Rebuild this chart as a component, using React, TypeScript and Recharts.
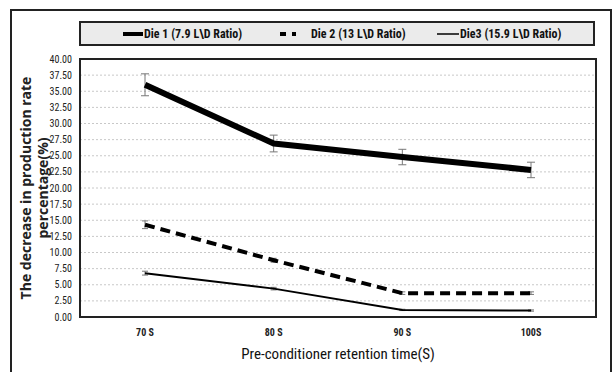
import { LineChart, Line, XAxis, YAxis, CartesianGrid, ErrorBar } from "recharts";

const categories = ["70 S", "80 S", "90 S", "100S"];
const die1 = [36.0, 26.9, 24.8, 22.8];
const die1Err = [1.7, 1.3, 1.2, 1.2];
const die2 = [14.3, 8.8, 3.7, 3.7];
const die2Err = [0.6, 0.3, 0.2, 0.2];
const die3 = [6.8, 4.4, 1.1, 1.0];
const die3Err = [0.3, 0.2, 0.1, 0.1];
const yTicks = [0, 2.5, 5, 7.5, 10, 12.5, 15, 17.5, 20, 22.5, 25, 27.5, 30, 32.5, 35, 37.5, 40];

const legendItems = [
  { label: "Die 1 (7.9 L\\D Ratio)", width: 4, dash: undefined as string | undefined, x: 42, lineW: 20 },
  { label: "Die 2 (13 L\\D Ratio)", width: 4, dash: "6 6", x: 199, lineW: 16 },
  { label: "Die3 (15.9 L\\D Ratio)", width: 1.5, dash: undefined as string | undefined, x: 356, lineW: 22 },
];

const FONT = "'Liberation Sans Narrow', 'Roboto Condensed', 'Roboto', sans-serif";

const data = categories.map((c, i) => ({
  name: c,
  die1: die1[i],
  die1Err: die1Err[i],
  die2: die2[i],
  die2Err: die2Err[i],
  die3: die3[i],
  die3Err: die3Err[i],
}));

const LegendBox = () => (
  <div
    style={{
      position: "absolute",
      left: 79,
      top: 21,
      width: 516,
      height: 25,
      boxSizing: "border-box",
      background: "#ebebeb",
      border: "2px solid #222",
      fontFamily: FONT,
      fontWeight: 700,
      fontSize: 12,
      color: "#111",
    }}
  >
    {legendItems.map((it) => (
      <div
        key={it.label}
        style={{ position: "absolute", left: it.x, top: 0, height: 21, display: "flex", alignItems: "center" }}
      >
        <svg width={it.lineW} height={10} style={{ marginRight: 1 }}>
          <line x1={0} y1={5} x2={it.lineW} y2={5} stroke="#000" strokeWidth={it.width} strokeDasharray={it.dash} />
        </svg>
        <span style={{ marginLeft: it.dash ? 14 : 0 }}>{it.label}</span>
      </div>
    ))}
  </div>
);

const YTitle = () => {
  const cy = 188;
  return (
    <g fontFamily="'Open Sans', sans-serif" fontWeight={700} fontSize={14} fill="#222">
      <text x={31} y={cy} transform={`rotate(-90, 31, ${cy})`} textAnchor="middle">
        The decrease in  production rate
      </text>
      <text x={48} y={cy} transform={`rotate(-90, 48, ${cy})`} textAnchor="middle">
        percentage(%)
      </text>
    </g>
  );
};

export default function App() {
  return (
    <div style={{ position: "absolute", left: 0, top: 0, width: 616, height: 372, background: "#fff", overflow: "hidden" }}>
      <div
        style={{
          position: "absolute",
          left: 10,
          top: 9,
          width: 602,
          height: 380,
          border: "2px solid #222",
          boxSizing: "border-box",
        }}
      />
      <LegendBox />
      <LineChart
        width={616}
        height={372}
        data={data}
        margin={{ top: 59, right: 20, left: 20, bottom: 10 }}
        style={{ position: "absolute", left: 0, top: 0 }}
      >
        <CartesianGrid vertical={false} stroke="#c8c8c8" strokeDasharray="2 2" />
        <XAxis
          dataKey="name"
          padding={{ left: 65, right: 65 }}
          tick={{ fill: "#222", fontSize: 10, fontFamily: FONT, fontWeight: 700 }}
          tickLine={false}
          axisLine={false}
          tickMargin={6}
          height={45}
          label={{
            value: "Pre-conditioner retention time(S)",
            position: "insideBottom",
            offset: 3,
            fill: "#111",
            fontSize: 15,
            fontFamily: FONT,
          }}
        />
        <YAxis
          domain={[0, 40]}
          ticks={yTicks}
          interval={0}
          width={60}
          tickFormatter={(v: number) => v.toFixed(2)}
          tick={{ fill: "#222", fontSize: 10, fontFamily: FONT }}
          tickLine={false}
          axisLine={false}
          label={<YTitle />}
        />
        <Line
          dataKey="die1"
          stroke="#000"
          strokeWidth={6}
          dot={false}
          isAnimationActive={false}
          strokeLinejoin="round"
        >
          <ErrorBar dataKey="die1Err" width={4} stroke="#777" strokeWidth={1} direction="y" />
        </Line>
        <Line
          dataKey="die2"
          stroke="#000"
          strokeWidth={4}
          strokeDasharray="10 6"
          dot={false}
          isAnimationActive={false}
        >
          <ErrorBar dataKey="die2Err" width={3} stroke="#777" strokeWidth={1} direction="y" />
        </Line>
        <Line dataKey="die3" stroke="#000" strokeWidth={2} dot={false} isAnimationActive={false}>
          <ErrorBar dataKey="die3Err" width={3} stroke="#777" strokeWidth={1} direction="y" />
        </Line>
      </LineChart>
      <div
        style={{
          position: "absolute",
          left: 79,
          top: 58,
          width: 518,
          height: 260,
          border: "2px solid #222",
          boxSizing: "border-box",
          pointerEvents: "none",
        }}
      />
    </div>
  );
}
